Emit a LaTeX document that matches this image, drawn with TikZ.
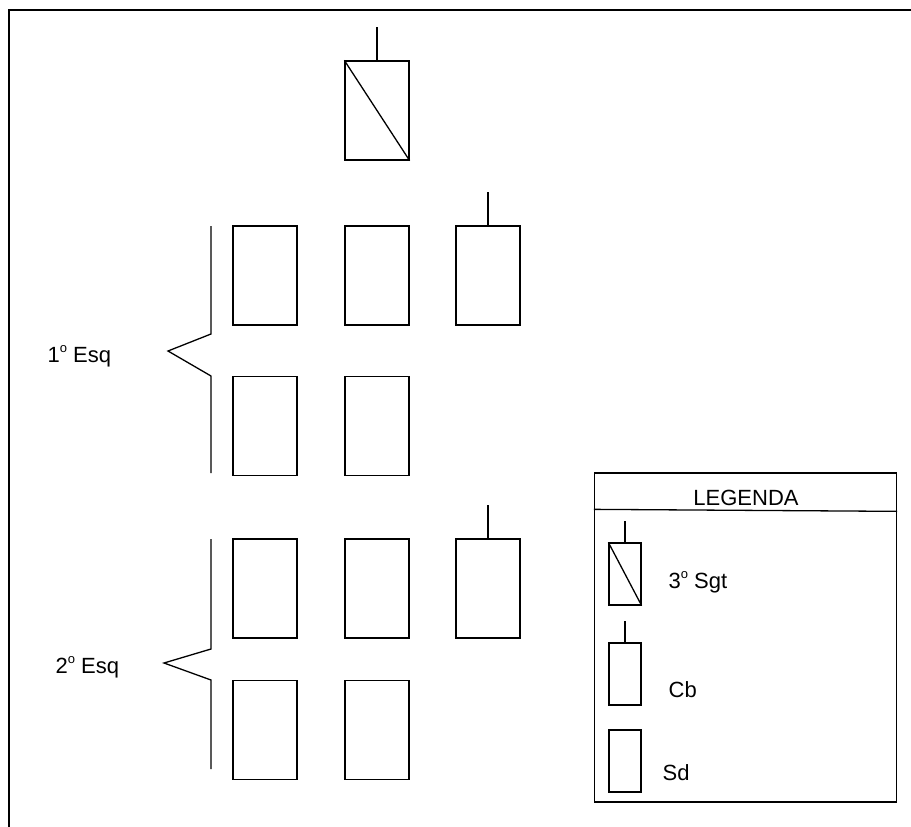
\documentclass[tikz,border=0pt]{standalone}
\usepackage{fontspec}
\setmainfont{Liberation Sans}
\usetikzlibrary{positioning}
\newcommand{\ordo}{\raisebox{0.78ex}{\fontsize{13}{13}\selectfont o}}

\begin{document}
\begin{tikzpicture}[x=1pt, y=-1pt, line width=1.3pt,
    soldier/.style={draw, rectangle, inner sep=0pt, minimum width=64pt, minimum height=99pt},
    minibox/.style={draw, rectangle, inner sep=0pt, minimum width=32pt, minimum height=62pt},
    lbl/.style={font=\fontsize{22}{26}\selectfont, inner sep=0pt, anchor=base west}]
  \useasboundingbox (0,0) rectangle (911,827);
  \draw (9,827) -- (9,10) -- (911,10);

  % 3o Sgt
  \node[soldier] (sgt) at (377,110.5) {};
  \draw (sgt.north west) -- (sgt.south east);
  \draw (sgt.north) -- ++(0,-33);

  % esquadras
  \foreach \n/\x/\y in {a1/265/275.5, a2/377/275.5, a3/488/275.5,
      b1/265/426, b2/377/426,
      c1/265/588.5, c2/377/588.5, c3/488/588.5,
      d1/265/730, d2/377/730} {
    \node[soldier] (\n) at (\x,\y) {};
  }
  \foreach \n in {a3, c3} {
    \draw (\n.north) -- ++(0,-33);
  }

  \draw (211,226) -- (211,334) -- (168,351) -- (211,376) -- (211,473);
  \draw (211,539) -- (211,649) -- (164,663) -- (211,680) -- (211,769);
  \node[lbl] (esq1) at (47,362) {1\ordo\ Esq};
  \node[lbl] (esq2) at (55,673) {2\ordo\ Esq};

  % legenda
  \node[draw, rectangle, inner sep=0pt, minimum width=302pt, minimum height=329pt] (leg) at (745.5,637.5) {};
  \draw ([yshift=-37pt]leg.north west) -- ([yshift=-39pt]leg.north east);
  \node[lbl, anchor=base] (legtit) at (746,505) {LEGENDA};

  \node[minibox] (lsgt) at (625,574) {};
  \draw (lsgt.north west) -- (lsgt.south east);
  \draw (lsgt.north) -- ++(0,-21);
  \node[lbl] (tsgt) at (668,588) {3\ordo\ Sgt};

  \node[minibox] (lcb) at (625,674) {};
  \draw (lcb.north) -- ++(0,-21);
  \node[lbl] (tcb) at (668,697) {Cb};

  \node[minibox] (lsd) at (625,761) {};
  \node[lbl] (tsd) at (662,780) {Sd};
\end{tikzpicture}
\end{document}
